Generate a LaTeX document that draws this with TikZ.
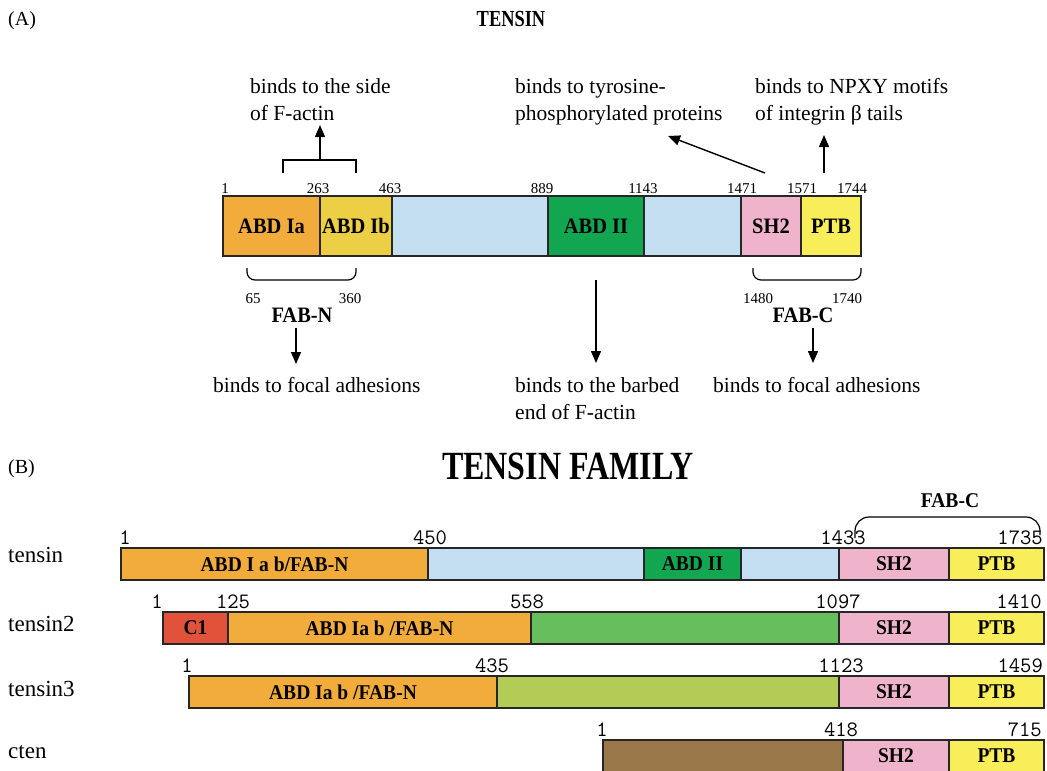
\documentclass[tikz,border=0pt]{standalone}
\usepackage{fontspec}
\setmainfont{Liberation Serif}
\newfontfamily\narrowfont[FakeStretch=0.93]{Liberation Serif}
\newfontfamily\titlefont[FakeStretch=0.8]{Liberation Serif}
\usetikzlibrary{arrows.meta,positioning}
\definecolor{abdorange}{RGB}{242,172,60}
\definecolor{abdyellow}{RGB}{237,207,69}
\definecolor{linkblue}{RGB}{197,223,242}
\definecolor{abdgreen}{RGB}{18,166,80}
\definecolor{shpink}{RGB}{240,179,204}
\definecolor{ptbyellow}{RGB}{247,238,90}
\definecolor{cred}{RGB}{224,82,58}
\definecolor{tnsgreen}{RGB}{102,191,92}
\definecolor{tnsolive}{RGB}{179,204,85}
\definecolor{ctenbrown}{RGB}{154,120,74}

\begin{document}
\begin{tikzpicture}[x=1pt, y=-1pt,
    seg/.style={draw=black!85, line width=1.2pt, inner sep=0pt, outer sep=0pt},
    segA/.style={seg, minimum height=60pt, font=\narrowfont\bfseries\fontsize{22}{24}\selectfont},
    segB/.style={seg, minimum height=32pt, font=\narrowfont\bfseries\fontsize{21}{24}\selectfont},
    numA/.style={anchor=south, inner sep=0pt, font=\fontsize{15}{16}\selectfont},
    numB/.style={anchor=south, inner sep=0pt, font=\ttfamily\fontsize{22}{22}\selectfont},
    note/.style={align=left, inner sep=0pt, anchor=north west, font=\fontsize{21.5}{27.5}\selectfont},
    rowname/.style={anchor=base west, inner sep=0pt, font=\fontsize{23}{24}\selectfont},
    arr/.style={-{Triangle[length=12pt,width=10pt]}, line width=1.4pt},
    bracket/.style={line width=1.2pt}]
\useasboundingbox (0,0) rectangle (1047,771);
\clip (0,0) rectangle (1047,771);

% (A) tensin
\node[anchor=base west, inner sep=0pt, font=\fontsize{20}{22}\selectfont] (labA) at (8,25) {(A)};
\node[anchor=base, inner sep=0pt, font=\titlefont\bfseries\fontsize{23}{24}\selectfont] (titleA) at (511,26) {TENSIN};

\node[segA, fill=abdorange, minimum width=97pt, anchor=north west] (abdIa) at (223,196) {ABD Ia};
\node[segA, fill=abdyellow, minimum width=72pt, right=0pt of abdIa] (abdIb) {ABD Ib};
\node[segA, fill=linkblue, minimum width=156pt, right=0pt of abdIb] (linkA) {};
\node[segA, fill=abdgreen, minimum width=96pt, right=0pt of linkA] (abdII) {ABD II};
\node[segA, fill=linkblue, minimum width=97pt, right=0pt of abdII] (linkB) {};
\node[segA, fill=shpink, minimum width=60pt, right=0pt of linkB] (shA) {SH2};
\node[segA, fill=ptbyellow, minimum width=60pt, right=0pt of shA] (ptbA) {PTB};

\node[numA, xshift=2pt, yshift=2pt] (a1) at (abdIa.north west) {1};
\node[numA, xshift=-2pt, yshift=2pt] (a263) at (abdIb.north west) {263};
\node[numA, xshift=-2pt, yshift=2pt] (a463) at (linkA.north west) {463};
\node[numA, xshift=-6pt, yshift=2pt] (a889) at (abdII.north west) {889};
\node[numA, xshift=-1pt, yshift=2pt] (a1143) at (linkB.north west) {1143};
\node[numA, xshift=1pt, yshift=2pt] (a1471) at (shA.north west) {1471};
\node[numA, xshift=1pt, yshift=2pt] (a1571) at (ptbA.north west) {1571};
\node[numA, xshift=-9pt, yshift=2pt] (a1744) at (ptbA.north east) {1744};

% upper notes
\node[note] (sideTxt) at (250,78) {binds to the side\\of F-actin};
\node[note] (tyrTxt) at (515,78) {binds to tyrosine-\\phosphorylated proteins};
\node[note] (npxyTxt) at (755,78) {binds to NPXY motifs\\of integrin β tails};

\draw[bracket] (283,173) -- (283,160) -- (356,160) -- (356,173);
\coordinate (sideBr) at (320,160);
\coordinate (sideEnd) at (320,125);
\draw[arr] (sideBr) -- (sideEnd);
\coordinate (shStart) at (765,173);
\coordinate (tyrEnd) at (668,136);
\draw[arr] (shStart) -- (tyrEnd);
\coordinate (ptbStart) at (824,173);
\coordinate (npxyEnd) at (824,135);
\draw[arr] (ptbStart) -- (npxyEnd);

% lower brackets and notes
\draw[bracket, rounded corners=8pt] (247,268) -- (247,280) -- (356,280) -- (356,268);
\draw[bracket, rounded corners=8pt] (753,268) -- (753,280) -- (861,280) -- (861,268);
\node[numA] (a65) at (253,304) {65};
\node[numA] (a360) at (350,304) {360};
\node[inner sep=0pt, font=\narrowfont\bfseries\fontsize{22}{24}\selectfont] (fabN) at (302,315) {FAB-N};
\node[numA] (a1480) at (758,304) {1480};
\node[numA] (a1740) at (847,304) {1740};
\node[inner sep=0pt, font=\narrowfont\bfseries\fontsize{22}{24}\selectfont] (fabC) at (803,315) {FAB-C};

\node[note] (focalL) at (213,377) {binds to focal adhesions};
\node[note] (barbTxt) at (515,377) {binds to the barbed\\end of F-actin};
\node[note] (focalR) at (713,377) {binds to focal adhesions};

\coordinate (fabNs) at (296,328);
\coordinate (fabNe) at (296,364);
\draw[arr] (fabNs) -- (fabNe);
\coordinate (barbS) at (596,280);
\coordinate (barbE) at (596,363);
\draw[arr] (barbS) -- (barbE);
\coordinate (fabCs) at (813,328);
\coordinate (fabCe) at (813,363);
\draw[arr] (fabCs) -- (fabCe);

% (B) tensin family
\node[anchor=base west, inner sep=0pt, font=\fontsize{20}{22}\selectfont] (labB) at (8,473) {(B)};
\node[anchor=base, inner sep=0pt, font=\titlefont\bfseries\fontsize{40}{44}\selectfont] (titleB) at (568,479) {TENSIN FAMILY};

% tensin
\node[rowname] (rowT1) at (8,562) {tensin};
\node[segB, fill=abdorange, minimum width=307pt, anchor=north west] (t1abd) at (121,548) {ABD I a b/FAB-N};
\node[segB, fill=linkblue, minimum width=216pt, right=0pt of t1abd] (t1linkA) {};
\node[segB, fill=abdgreen, minimum width=97pt, right=0pt of t1linkA] (t1abdII) {ABD II};
\node[segB, fill=linkblue, minimum width=98pt, right=0pt of t1abdII] (t1linkB) {};
\node[segB, fill=shpink, minimum width=110pt, right=0pt of t1linkB] (t1sh) {SH2};
\node[segB, fill=ptbyellow, minimum width=95pt, right=0pt of t1sh] (t1ptb) {PTB};
\node[numB, xshift=4pt, yshift=3pt] (t1n1) at (t1abd.north west) {1};
\node[numB, xshift=2pt, yshift=3pt] (t1n450) at (t1linkA.north west) {450};
\node[numB, xshift=4pt, yshift=3pt] (t1n1433) at (t1sh.north west) {1433};
\node[numB, anchor=south east, xshift=-1pt, yshift=3pt] (t1n1735) at (t1ptb.north east) {1735};
\draw[bracket, rounded corners=14pt] (855,538) -- (855,517) -- (1040,517) -- (1040,535);
\node[inner sep=0pt, font=\narrowfont\bfseries\fontsize{21}{22}\selectfont] (fabCB) at (950,501) {FAB-C};

% tensin2
\node[rowname] (rowT2) at (8,631) {tensin2};
\node[segB, fill=cred, minimum width=65pt, anchor=north west] (t2c1) at (163,612) {C1};
\node[segB, fill=abdorange, minimum width=303pt, right=0pt of t2c1] (t2abd) {ABD Ia b /FAB-N};
\node[segB, fill=tnsgreen, minimum width=308pt, right=0pt of t2abd] (t2mid) {};
\node[segB, fill=shpink, minimum width=110pt, right=0pt of t2mid] (t2sh) {SH2};
\node[segB, fill=ptbyellow, minimum width=95pt, right=0pt of t2sh] (t2ptb) {PTB};
\node[numB, xshift=-6pt, yshift=3pt] (t2n1) at (t2c1.north west) {1};
\node[numB, xshift=5pt, yshift=3pt] (t2n125) at (t2abd.north west) {125};
\node[numB, xshift=-4pt, yshift=3pt] (t2n558) at (t2mid.north west) {558};
\node[numB, xshift=-1pt, yshift=3pt] (t2n1097) at (t2sh.north west) {1097};
\node[numB, anchor=south east, xshift=-2pt, yshift=3pt] (t2n1410) at (t2ptb.north east) {1410};

% tensin3
\node[rowname] (rowT3) at (8,696) {tensin3};
\node[segB, fill=abdorange, minimum width=308pt, anchor=north west] (t3abd) at (189,676) {ABD Ia b /FAB-N};
\node[segB, fill=tnsolive, minimum width=342pt, right=0pt of t3abd] (t3mid) {};
\node[segB, fill=shpink, minimum width=110pt, right=0pt of t3mid] (t3sh) {SH2};
\node[segB, fill=ptbyellow, minimum width=95pt, right=0pt of t3sh] (t3ptb) {PTB};
\node[numB, xshift=-2pt, yshift=3pt] (t3n1) at (t3abd.north west) {1};
\node[numB, xshift=-5pt, yshift=3pt] (t3n435) at (t3mid.north west) {435};
\node[numB, xshift=2pt, yshift=3pt] (t3n1123) at (t3sh.north west) {1123};
\node[numB, anchor=south east, xshift=-1pt, yshift=3pt] (t3n1459) at (t3ptb.north east) {1459};

% cten
\node[rowname] (rowT4) at (8,758) {cten};
\node[segB, fill=ctenbrown, minimum width=240pt, anchor=north west] (t4mid) at (603,740) {};
\node[segB, fill=shpink, minimum width=106pt, right=0pt of t4mid] (t4sh) {SH2};
\node[segB, fill=ptbyellow, minimum width=95pt, right=0pt of t4sh] (t4ptb) {PTB};
\node[numB, xshift=-1pt, yshift=3pt] (t4n1) at (t4mid.north west) {1};
\node[numB, xshift=-2pt, yshift=3pt] (t4n418) at (t4sh.north west) {418};
\node[numB, anchor=south east, xshift=-2pt, yshift=3pt] (t4n715) at (t4ptb.north east) {715};
\end{tikzpicture}
\end{document}
